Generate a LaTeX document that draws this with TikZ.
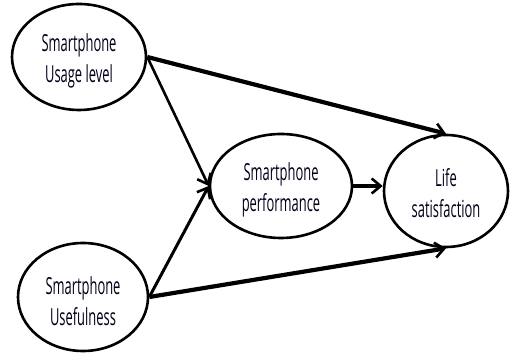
\documentclass[tikz,border=0pt]{standalone}
\usepackage{fontspec}
\setmainfont{Open Sans}[FakeStretch=0.55]
\usetikzlibrary{arrows.meta,shapes.geometric}
\begin{document}
\begin{tikzpicture}[x=1pt,y=1pt,
  var/.style={draw=black,line width=2.6pt,ellipse,inner sep=0pt},
  lbl/.style={text=black!90!blue,align=center,inner sep=0pt,font=\fontsize{23.5}{31}\selectfont},
  conn/.style={line width=#1,-{Straight Barb[length=9pt,width=15pt,line width=2.6pt]}},
  conn/.default=2.6pt]
\useasboundingbox (0,0) rectangle (513,355);
\node[var,minimum width=134pt,minimum height=106pt] (A) at (79,298) {};
\node[var,minimum width=130pt,minimum height=108pt] (B) at (83,58) {};
\node[var,minimum width=142pt,minimum height=104pt] (M) at (281,169) {};
\node[var,minimum width=124pt,minimum height=112pt] (L) at (446,164) {};
\node[lbl] (At) at ([yshift=-4pt]A.center) {Smartphone\\Usage level};
\node[lbl] (Bt) at ([yshift=-4pt]B.center) {Smartphone\\Usefulness};
\node[lbl] (Mt) at ([yshift=-4pt]M.center) {Smartphone\\performance};
\node[lbl] (Lt) at ([yshift=-2pt]L.center) {Life\\satisfaction};
\draw[conn=4.2pt] (A.east) -- (L.north);
\draw[conn=4.2pt] (B.east) -- (L.south);
\draw[conn=2.6pt] (A.east) -- (M.west);
\draw[conn=3pt] (B.east) -- (M.west);
\draw[conn=4.2pt] (M.east) -- (M.east -| L.west);
\end{tikzpicture}
\end{document}
